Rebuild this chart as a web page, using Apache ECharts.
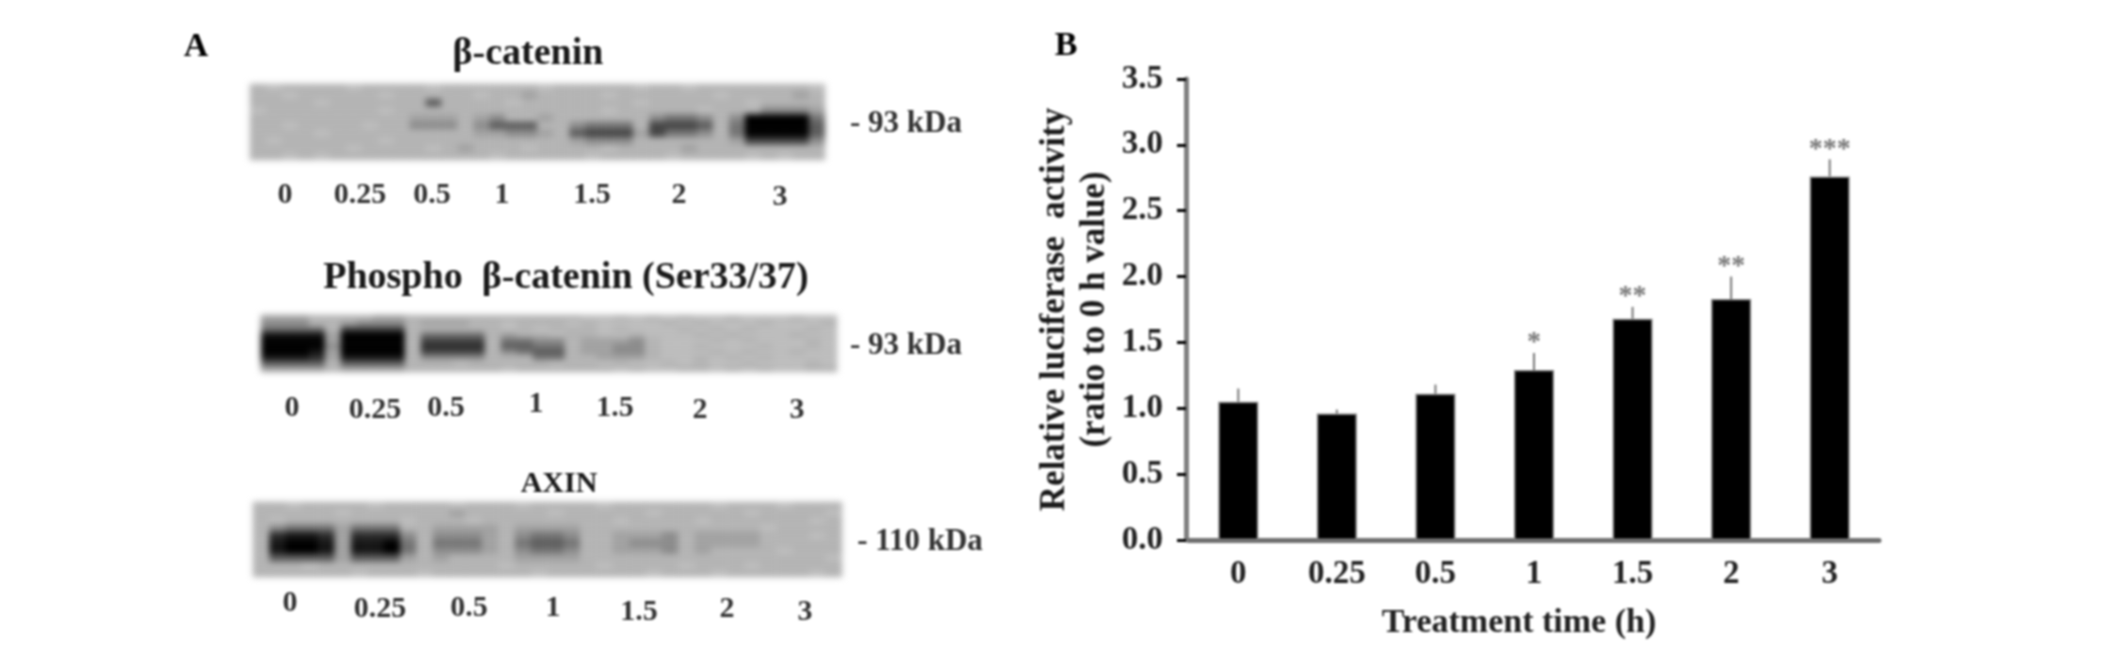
<!DOCTYPE html>
<html>
<head>
<meta charset="utf-8">
<title>Treatment time blots and luciferase</title>
<script src="https://cdn.jsdelivr.net/npm/echarts@6/dist/echarts.min.js"></script>
<style>
  html,body{margin:0;padding:0;background:#fff;}
  #blots,#main{position:absolute;left:0;top:0;width:2126px;height:652px;}
  #blots{filter:blur(3px);}
  #main{filter:blur(0.9px);}
</style>
</head>
<body>
<div id="blots"></div>
<div id="main"></div>
<script>
// panel B
var times = ['0','0.25','0.5','1','1.5','2','3'];
var activity = [1.05,0.96,1.11,1.29,1.68,1.83,2.76];
var errorTop = [1.15,0.99,1.18,1.42,1.77,2.00,2.89];
var stars = ['','','','*','**','**','***'];
var yTicks = {min:0,max:3.5,interval:0.5};

// panel A, band density read lane by lane, 0 black .. 9 lightest (spaces only for reading)
var blotCatenin = [
  '8988889888 8988888898 8888988988 888889',
  '8898888898 8888988788 8898888889 888878',
  '8888988888 8488889888 8888988888 898888',
  '9888888898 8888888888 8898888898 886667',
  '8888888888 7778768878 8888865568 600005',
  '8898888988 6668644488 6555833348 500004',
  '8888988888 8888776678 4333735568 500004',
  '8988888898 8888888888 7666888888 733336',
  '8888889888 8987888988 8898888788 888888',
  '8898988888 8888898888 8988889888 898988'
];
var blotPhospho = [
  '7778888778 8888888888 9989898998 999899',
  '6668876668 7778898889 8999989899 989998',
  '5555833338 8888898988 8989998989 899989',
  '1111700008 5555878898 8998999898 999899',
  '0000700008 3333855668 7776899989 899989',
  '0000600008 2222844558 7766899899 989989',
  '0001700008 3333865448 7766899989 899899',
  '1112711118 6666888558 8777899898 989999',
  '4444844448 8898888898 8989989899 899989',
  '7777877778 8888898888 8898998898 989988'
];
var blotAxin = [
  '8898888988 8898889888 8988888898 889888',
  '8888898888 8878888898 8888988888 988889',
  '8988888889 8889888888 8898888988 888898',
  '8655575558 8777787777 8888888888 898888',
  '8211272226 8666786556 8877768777 788898',
  '8100171105 8555785445 8876668777 788888',
  '8100171105 8666786556 8877768788 889888',
  '8444474447 8788887777 8888888888 888889',
  '8889888888 8888898888 8988889888 988888',
  '8888889888 9888888988 8888988898 888898'
];
var densityGrays = ['#000000','#161616','#2c2c2c','#444444','#5c5c5c','#747474','#8c8c8c','#a2a2a2','#b4b4b4','#bdbdbd'];
var blotTitles = ['β-catenin','Phospho  β-catenin (Ser33/37)','AXIN'];
var blotWeights = ['- 93 kDa','- 93 kDa','- 110 kDa'];

// layout of the blot panels, left/top/width/height in px
var blotBoxes = [[250,84,575,76],[261,315,576,57],[253,502,589,75]];
var titlePos = [[528,54],[566,278],[559,484]];
var weightPos = [[906,124],[906,346],[920,542]];
var lanePos = [
  [[285,195],[360,195],[432,195],[502,195],[592,195],[679,195],[780,197]],
  [[292,408],[375,410],[446,408],[536,404],[615,408],[700,410],[797,410]],
  [[290,603],[380,609],[469,608],[553,608],[639,612],[727,609],[805,612]]
];

var serif = '"Liberation Serif","Times New Roman",serif';

function cells(rows){
  var out = [];
  rows.forEach(function(row,r){
    row.replace(/ /g,'').split('').forEach(function(d,c){
      out.push([c,r,Number(d)]);
    });
  });
  return out;
}

// the blots go on their own blurred layer
var blotChart = echarts.init(document.getElementById('blots'));
var blotData = [blotCatenin,blotPhospho,blotAxin];
var blotOption = {
  animation:false,
  visualMap:{show:false,min:0,max:9,dimension:2,seriesIndex:[0,1,2],inRange:{color:densityGrays}},
  grid:[],xAxis:[],yAxis:[],series:[]
};
blotData.forEach(function(rows,i){
  var b = blotBoxes[i];
  var nCols = rows[0].replace(/ /g,'').length;
  blotOption.grid.push({left:b[0],top:b[1],width:b[2],height:b[3]});
  blotOption.xAxis.push({type:'category',gridIndex:i,show:false,data:Array.from({length:nCols},function(v,k){return k;})});
  blotOption.yAxis.push({type:'category',gridIndex:i,show:false,inverse:true,data:rows.map(function(v,k){return k;})});
  blotOption.series.push({type:'heatmap',xAxisIndex:i,yAxisIndex:i,data:cells(rows),progressive:0});
});
blotChart.setOption(blotOption);

// texts of panel A and the two letters
var texts = [];
function addText(t,x,y,size,color){
  texts.push({type:'text',x:x,y:y,silent:true,style:{
    text:t,x:0,y:0,align:'center',verticalAlign:'middle',
    font:'bold '+size+'px '+serif,fill:color||'#1a1a1a'
  }});
}
addText('A',196,47,34,'#000');
addText('B',1066,46,34,'#000');
blotTitles.forEach(function(t,i){
  addText(t,titlePos[i][0],titlePos[i][1],i==2?30:38);
  addText(blotWeights[i],weightPos[i][0],weightPos[i][1],31,'#333');
  times.forEach(function(l,k){
    addText(l,lanePos[i][k][0],lanePos[i][k][1],30,'#333');
  });
});

var chart = echarts.init(document.getElementById('main'));
chart.setOption({
  animation:false,
  backgroundColor:'transparent',
  graphic:texts,
  grid:{left:1189,top:79,width:690,height:461},
  xAxis:{
    type:'category',data:times,
    axisLine:{lineStyle:{color:'#707070',width:5}},
    axisTick:{show:false},
    axisLabel:{margin:18,fontFamily:serif,fontWeight:'bold',fontSize:33,color:'#222'},
    name:'Treatment time (h)',nameLocation:'middle',nameGap:66,
    nameTextStyle:{fontFamily:serif,fontWeight:'bold',fontSize:34,color:'#222',padding:[0,30,0,0]}
  },
  yAxis:{
    type:'value',min:yTicks.min,max:yTicks.max,interval:yTicks.interval,offset:3,
    splitLine:{show:false},
    axisLine:{show:true,lineStyle:{color:'#808080',width:5}},
    axisTick:{show:true,length:9,lineStyle:{color:'#000',width:3}},
    axisLabel:{margin:23,fontFamily:serif,fontWeight:'bold',fontSize:33,color:'#222',
      formatter:function(v){return v.toFixed(1);}},
    name:'Relative luciferase  activity\n(ratio to 0 h value)',nameLocation:'middle',nameGap:71,
    nameTextStyle:{fontFamily:serif,fontWeight:'bold',fontSize:35,lineHeight:40,color:'#1a1a1a'}
  },
  series:[
    {
      type:'custom',z:1,
      data:errorTop.map(function(v,i){return [i,activity[i],v,stars[i]];}),
      encode:{x:0,y:2},
      renderItem:function(params,api){
        var low = api.coord([api.value(0),api.value(1)]);
        var high = api.coord([api.value(0),api.value(2)]);
        return {type:'group',children:[
          {type:'line',shape:{x1:low[0],y1:low[1],x2:high[0],y2:high[1]},style:{stroke:'#777',lineWidth:2}},
          {type:'text',style:{text:stars[params.dataIndex],x:high[0],y:high[1]-10,align:'center',verticalAlign:'middle',
            font:'bold 28px '+serif,fill:'#777'}}
        ]};
      }
    },
    {
      type:'bar',z:2,data:activity,barWidth:40,
      itemStyle:{color:'#000',borderColor:'#808080',borderWidth:1.5}
    }
  ]
});
</script>
</body>
</html>
